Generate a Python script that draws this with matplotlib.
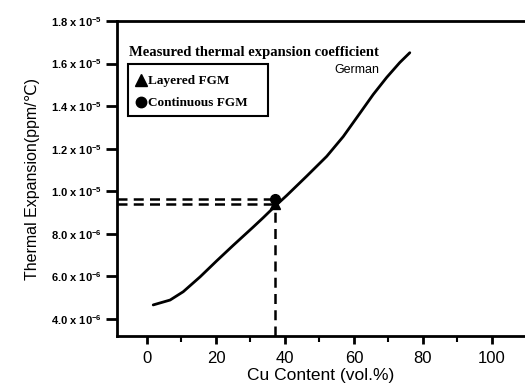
import matplotlib
matplotlib.use("Agg")
import matplotlib.pyplot as plt
from matplotlib.patches import Rectangle

# Data
cu_content = [1.8, 6.7, 10.5, 15.4, 20.2, 25.0, 30.8, 33.7, 37.0, 40.5, 46.3, 52.1,
              56.9, 61.7, 65.6, 69.5, 73.3, 76.2]
expansion = [4.66e-6, 4.89e-6, 5.28e-6, 5.98e-6, 6.73e-6, 7.46e-6, 8.32e-6, 8.76e-6,
             9.28e-6, 9.8e-6, 1.071e-5, 1.164e-5, 1.257e-5, 1.366e-5, 1.455e-5,
             1.535e-5, 1.605e-5, 1.651e-5]
measured_x = 37
layered_y = 9.4e-6
continuous_y = 9.65e-6
xticks = [0, 20, 40, 60, 80, 100]
xminor = [10, 30, 50, 70, 90]
yticks = [4e-6, 6e-6, 8e-6, 1.0e-5, 1.2e-5, 1.4e-5, 1.6e-5, 1.8e-5]
ytick_labels = [r"4.0 x 10$^{-6}$", r"6.0 x 10$^{-6}$", r"8.0 x 10$^{-6}$", r"1.0 x 10$^{-5}$",
                r"1.2 x 10$^{-5}$", r"1.4 x 10$^{-5}$", r"1.6 x 10$^{-5}$", r"1.8 x 10$^{-5}$"]

plt.rcParams['font.family'] = ['Liberation Sans', 'DejaVu Sans']
plt.rcParams['mathtext.fontset'] = 'custom'
plt.rcParams['mathtext.rm'] = 'Liberation Sans:bold'
plt.rcParams['mathtext.it'] = 'Liberation Sans:bold'

fig = plt.figure(figsize=(5.25, 3.9), dpi=100)
ax = fig.add_axes([117/525, 54/390, 1 - 117/525, (336-21)/390])

ax.plot(cu_content, expansion, color='black', lw=2, solid_capstyle='round',
        solid_joinstyle='round')

dash = (0, (4, 2.5))
ax.plot([-8.7, measured_x], [layered_y, layered_y], color='black', lw=1.8, linestyle=dash)
ax.plot([-8.7, measured_x], [continuous_y, continuous_y], color='black', lw=1.8, linestyle=dash)
ax.plot([measured_x, measured_x], [3.2e-6, layered_y], color='black', lw=1.8, linestyle=dash)
ax.plot([measured_x], [layered_y], marker='^', color='black', ms=7)
ax.plot([measured_x], [continuous_y], marker='o', color='black', ms=7)

ax.set_xlim(-8.7, 109.6)
ax.set_ylim(3.2e-6, 1.8e-5)

ax.set_xticks(xticks)
ax.set_xticklabels([str(t) for t in xticks], fontsize=12)
ax.set_xticks(xminor, minor=True)
ax.set_yticks(yticks)
ax.set_yticklabels(ytick_labels, fontsize=8, fontweight='bold')
ax.tick_params(axis='x', which='major', length=6, width=2, direction='out', pad=5)
ax.tick_params(axis='x', which='minor', length=4, width=1.5, direction='out')
ax.tick_params(axis='y', which='major', length=8, width=2, direction='out', pad=3)

for s in ['left', 'bottom', 'top']:
    ax.spines[s].set_linewidth(2)
ax.spines['right'].set_visible(False)

ax.set_xlabel("Cu Content (vol.%)", fontsize=12.5, labelpad=1)
ax.set_ylabel("Thermal Expansion(ppm/\u2103)", fontsize=11.5, labelpad=8,
              family=['Liberation Sans', 'DejaVu Sans'])

ax.text(0.03, 0.89, "Measured thermal expansion coefficient", transform=ax.transAxes,
        family='Liberation Serif', fontweight='bold', fontsize=10.5)
ax.text(0.534, 0.844, "German", transform=ax.transAxes, fontsize=9, va='center')

# legend box
box = Rectangle((0.027, 0.700), 0.343, 0.162, transform=ax.transAxes, fill=False,
                edgecolor='black', lw=1.5)
ax.add_patch(box)
ax.plot([0.059], [0.812], marker='^', color='black', ms=8, transform=ax.transAxes, clip_on=False)
ax.plot([0.059], [0.743], marker='o', color='black', ms=7.5, transform=ax.transAxes, clip_on=False)
ax.text(0.076, 0.81, "Layered FGM", transform=ax.transAxes, family='Liberation Serif',
        fontweight='bold', fontsize=9.5, va='center')
ax.text(0.076, 0.741, "Continuous FGM", transform=ax.transAxes, family='Liberation Serif',
        fontweight='bold', fontsize=9.5, va='center')

fig.savefig("out.png", dpi=100)
